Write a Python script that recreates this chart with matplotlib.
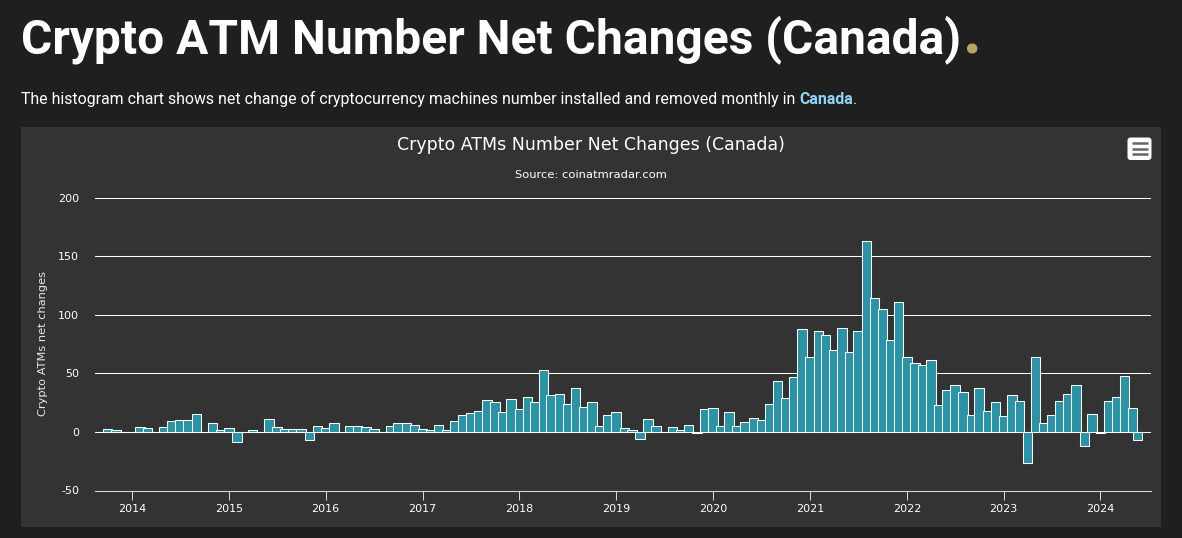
import pandas as pd
import matplotlib
matplotlib.use('Agg')
import matplotlib.pyplot as plt
import matplotlib.dates as mdates
from matplotlib.patches import Rectangle, FancyBboxPatch
from matplotlib.transforms import IdentityTransform

plt.rcParams['axes.unicode_minus'] = False

W, H = 1182, 538

# monthly net changes, Oct 2013 .. May 2024, last bar is a partial month
v2013 = [2.5, 1.5, 0]
v2014 = [0, 4, 3, 0, 4, 9, 10, 10, 15, 0, 7.5, 1.5]
v2015 = [3, -8.5, 0, 1.5, 0, 11, 4, 2.5, 2.5, 2.5, -7, 5]
v2016 = [3, 7.5, 0, 5, 5, 4, 2.5, 0, 5, 7.5, 7.5, 6]
v2017 = [2.5, 1.5, 6, 1.5, 9, 14.5, 16, 18, 27, 25.5, 17, 28]
v2018 = [19.5, 30, 25.5, 53, 31.5, 32.5, 24, 37.5, 21.5, 25.5, 5, 14.5]
v2019 = [17, 3, 1.5, -6, 11, 5, 0, 4, 1.5, 6, -1, 19.5]
v2020 = [20.5, 5, 17, 5, 8.5, 12, 10, 23.5, 43.5, 29, 47, 87.5]
v2021 = [64, 86, 82.5, 70, 88.5, 68, 86, 163, 114, 104.5, 78, 110.5]
v2022 = [64, 58.5, 57, 61, 23, 35.5, 40, 34, 14.5, 37.5, 18, 25.5]
v2023 = [13.5, 31.5, 26.5, -26.5, 64, 7.5, 14.5, 26.5, 32.5, 40, -12, 15]
v2024 = [-1, 26.5, 30, 47.5, 20.5, -6.5]

values = v2013 + v2014 + v2015 + v2016 + v2017 + v2018 + v2019 + v2020 + v2021 + v2022 + v2023 + v2024
dates = list(pd.date_range('2013-10-01', '2024-05-01', freq='MS')) + [pd.Timestamp('2024-05-19')]

year_ticks = list(range(2014, 2025))
y_ticks = [-50, 0, 50, 100, 150, 200]

PAGE = '#1f1f1f'
PANEL = '#333333'
BAR = '#2a93a6'
AXIS = '#ccd6eb'
THIN = 0.75


def fx(px):
    return px / W


def fy(px):
    return 1 - px / H


fig = plt.figure(figsize=(W / 100, H / 100), dpi=100, facecolor=PAGE)
fig.patches.append(Rectangle((fx(21), fy(527)), 1140 / W, 400 / H, transform=fig.transFigure,
                             facecolor=PANEL, edgecolor='none', zorder=-2))

ax = fig.add_axes([fx(95), fy(490.5), 1056 / W, 293 / H], facecolor='none')

x = mdates.date2num(dates)
ax.bar(x, values, width=36, color=BAR, edgecolor='white', linewidth=THIN, zorder=3)

start = mdates.date2num(pd.Timestamp('2014-01-01'))
ax.set_xlim(start - 139.5, start + 3842.6)
ax.set_ylim(-50, 200)

ax.set_yticks(y_ticks)
ax.set_xticks([mdates.date2num(pd.Timestamp(f'{y}-01-01')) for y in year_ticks])
ax.set_xticklabels([str(y) for y in year_ticks])
ax.tick_params(axis='x', length=6.7, width=THIN, color=AXIS, labelcolor='white', labelsize=8, pad=3)
ax.tick_params(axis='y', length=0, labelcolor='white', labelsize=8, pad=11.5)
ax.grid(axis='y', color='white', linewidth=THIN, zorder=1)
ax.set_axisbelow(True)
for name in ['top', 'left', 'right']:
    ax.spines[name].set_visible(False)
ax.spines['bottom'].set_color(AXIS)
ax.spines['bottom'].set_linewidth(THIN)

fig.text(fx(43), fy(344), 'Crypto ATMs net changes', rotation=90, color='#e8e8e8', fontsize=8.2,
         ha='center', va='center')
fig.text(fx(591), fy(144.5), 'Crypto ATMs Number Net Changes (Canada)', color='white', fontsize=12.47,
         ha='center', va='center')
fig.text(fx(591), fy(174.5), 'Source: coinatmradar.com', color='white', fontsize=8.25,
         ha='center', va='center')

# heading and intro line, pieces put side by side
renderer = fig.canvas.get_renderer()


def put(px, base, s, **kw):
    t = fig.text(fx(px), fy(base), s, family='Roboto', va='baseline', ha='left', **kw)
    return t.get_window_extent(renderer).x1


end = put(21, 53, 'Crypto ATM Number Net Changes (Canada)', color='white', fontsize=34.45, fontweight='bold')
put(963, 54, '.', color='#b5a95c', fontsize=47, fontweight='bold')
end = put(21, 104, 'The histogram chart shows net change of cryptocurrency machines number installed and removed monthly in ',
          color='white', fontsize=11.47)
end2 = put(end, 104, 'Canada', color='#90d5f7', fontsize=11.47, fontweight='bold')
put(end2, 104, '.', color='white', fontsize=11.47)

# menu button
fig.patches.append(FancyBboxPatch((1128.5, H - 159), 22, 20.5, transform=IdentityTransform(),
                                  boxstyle='round,pad=1,rounding_size=3', facecolor='white',
                                  edgecolor='white', linewidth=0))
for py in [143.3, 148.5, 153.7]:
    fig.add_artist(plt.Line2D([fx(1132), fx(1148)], [fy(py), fy(py)], color='#666666', linewidth=1.8,
                              solid_capstyle='butt'))

fig.savefig('out.png', dpi=100, facecolor=PAGE)
